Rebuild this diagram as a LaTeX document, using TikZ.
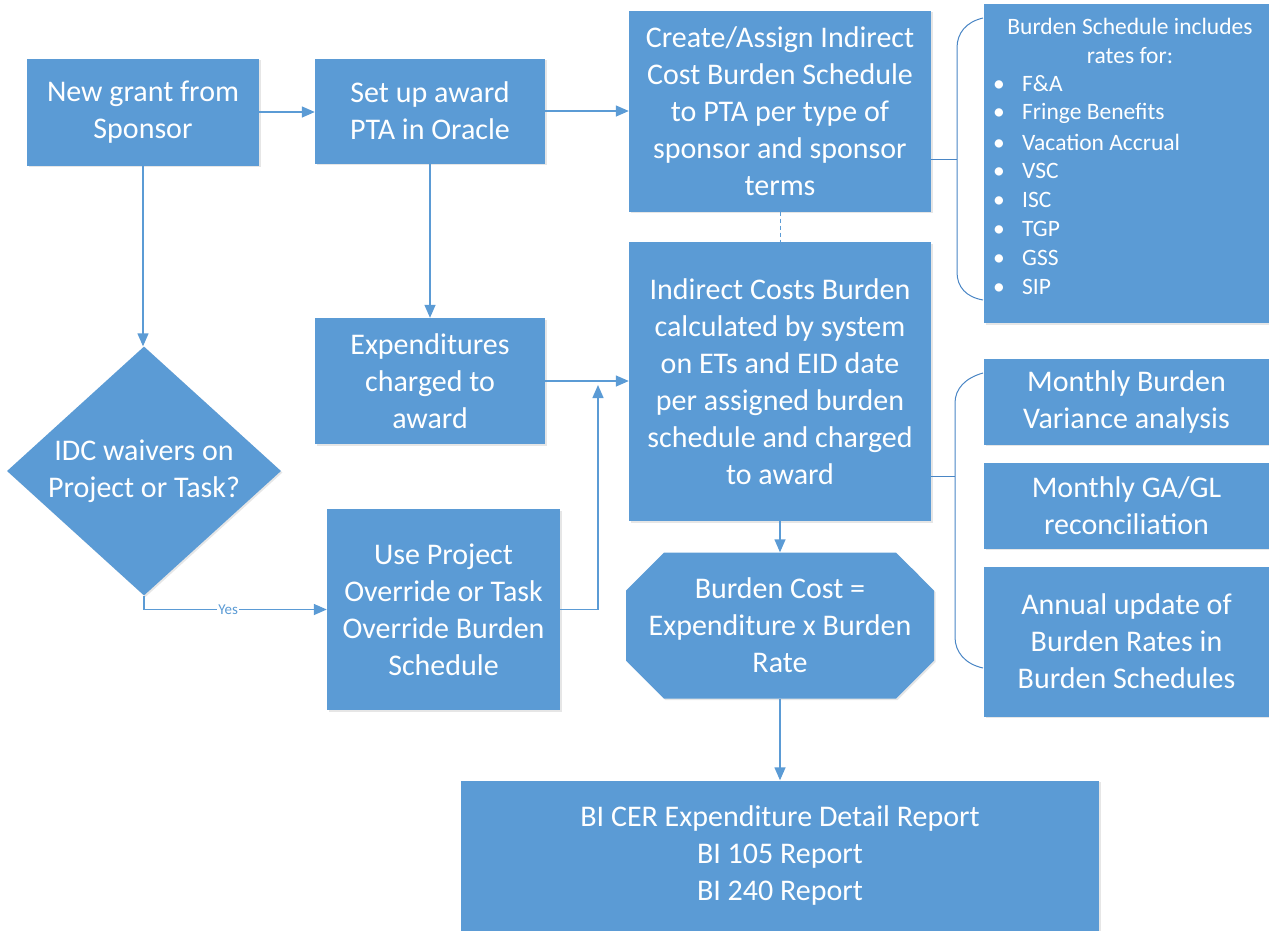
\documentclass[tikz,border=0pt]{standalone}
\usepackage{fontspec}
\setmainfont{Carlito}
\usetikzlibrary{arrows.meta,shapes.geometric,shapes.misc,shadows}
\definecolor{boxblue}{HTML}{5B9BD5}
\definecolor{lineblue}{HTML}{5B9BD5}
\definecolor{braceblue}{HTML}{4A86C5}
\begin{document}
\begin{tikzpicture}[x=1pt,y=-1pt,
  box/.style={draw=none, fill=boxblue, text=white, align=center, inner sep=0pt,
    font=\fontsize{30}{37}\selectfont,
    drop shadow={opacity=0.2, shadow xshift=1.5pt, shadow yshift=-1.5pt}},
  conn/.style={draw=lineblue, line width=1.4pt},
  arr/.style={conn, -{Triangle[length=13pt,width=11pt]}},
  bracepath/.style={draw=braceblue, line width=1pt},
  yeslabel/.style={font=\fontsize{15}{17}\selectfont, text=lineblue, fill=white, inner sep=1pt},
  listtext/.style={font=\fontsize{23.5}{29}\selectfont, text=white, inner sep=0pt},
]
\useasboundingbox (0,0) rectangle (1269,930);

% brace joints
\coordinate (bm1) at (957,159);
\coordinate (bm2) at (955,476);

% boxes
\node[box, minimum width=232, minimum height=107] (grant) at (143,112) {New grant from\\Sponsor};
\node[box, minimum width=230, minimum height=105] (setup) at (430,111) {Set up award\\PTA in Oracle};
\node[box, minimum width=302, minimum height=201] (assign) at (780,111) {Create/Assign Indirect\\Cost Burden Schedule\\to PTA per type of\\sponsor and sponsor\\terms};
\node[box, minimum width=285, minimum height=319] (sched) at (1126.5,163.5) {};
\node[box, minimum width=302, minimum height=279] (calc) at (780,381.5) {Indirect Costs Burden\\calculated by system\\on ETs and EID date\\per assigned burden\\schedule and charged\\to award};
\node[box, minimum width=230, minimum height=126] (exp) at (430,381) {Expenditures\\charged to\\award};
\node[box, shape=diamond, aspect=1.1, minimum width=274, minimum height=249] (idc) at (144,471) {IDC waivers on\\Project or Task?};
\node[box, minimum width=233, minimum height=201] (ovr) at (443.5,609.5) {Use Project\\Override or Task\\Override Burden\\Schedule};
\node[box, chamfered rectangle, chamfered rectangle xsep=19pt, chamfered rectangle ysep=19pt, minimum width=308, minimum height=146] (cost) at (780,625.5) {Burden Cost =\\Expenditure x Burden\\Rate};
\node[box, minimum width=285, minimum height=86] (var) at (1126.5,401.5) {Monthly Burden\\Variance analysis};
\node[box, minimum width=285, minimum height=86] (recon) at (1126.5,505.5) {Monthly GA/GL\\reconciliation};
\node[box, minimum width=285, minimum height=150] (annual) at (1126.5,641.5) {Annual update of\\Burden Rates in\\Burden Schedules};
\node[box, minimum width=638, minimum height=150] (bi) at (780,855.5) {BI CER Expenditure Detail Report\\BI 105 Report\\BI 240 Report};

% schedule list
\node[listtext, align=center] (stitle) at (1130,41) {Burden Schedule includes\\rates for:};
\foreach \t [count=\i] in {F\&A, Fringe Benefits, Vacation Accrual, VSC, ISC, TGP, GSS, SIP}
  \node[listtext, anchor=west] (item\i) at (993,55+29*\i) {\makebox[29pt][l]{•}\t};

% braces
\draw[bracepath] (bm1 -| assign.east) -- (bm1);
\draw[bracepath] (983,18) .. controls (966,22) and (957,33) .. (957,48) -- (957,272) .. controls (957,287) and (966,297) .. (983,300);
\draw[bracepath] (bm2 -| calc.east) -- (bm2);
\draw[bracepath] (983,373) .. controls (965,378) and (955,389) .. (955,403) -- (955,637) .. controls (955,652) and (965,664) .. (983,668);

% connectors
\coordinate (join) at (598,385);
\draw[arr] (grant.east) -- (grant.east -| setup.west);
\draw[arr] (setup.east) -- (setup.east -| assign.west);
\draw[arr] (grant.south) -- (grant.south |- idc.north);
\draw[arr] (setup.south) -- (exp.north);
\draw[arr] (exp.east) -- (exp.east -| calc.west);
\draw[arr] (ovr.east) -| (join);
\draw[arr] (idc.south) |- node[pos=0.73, yeslabel] (yes) {Yes} (ovr.west);
\draw[conn, line width=1pt, dash pattern=on 4pt off 3pt] (assign.south) -- (calc.north);
\draw[arr] (calc.south) -- (cost.north);
\draw[arr] (cost.south) -- (bi.north);
\end{tikzpicture}
\end{document}
